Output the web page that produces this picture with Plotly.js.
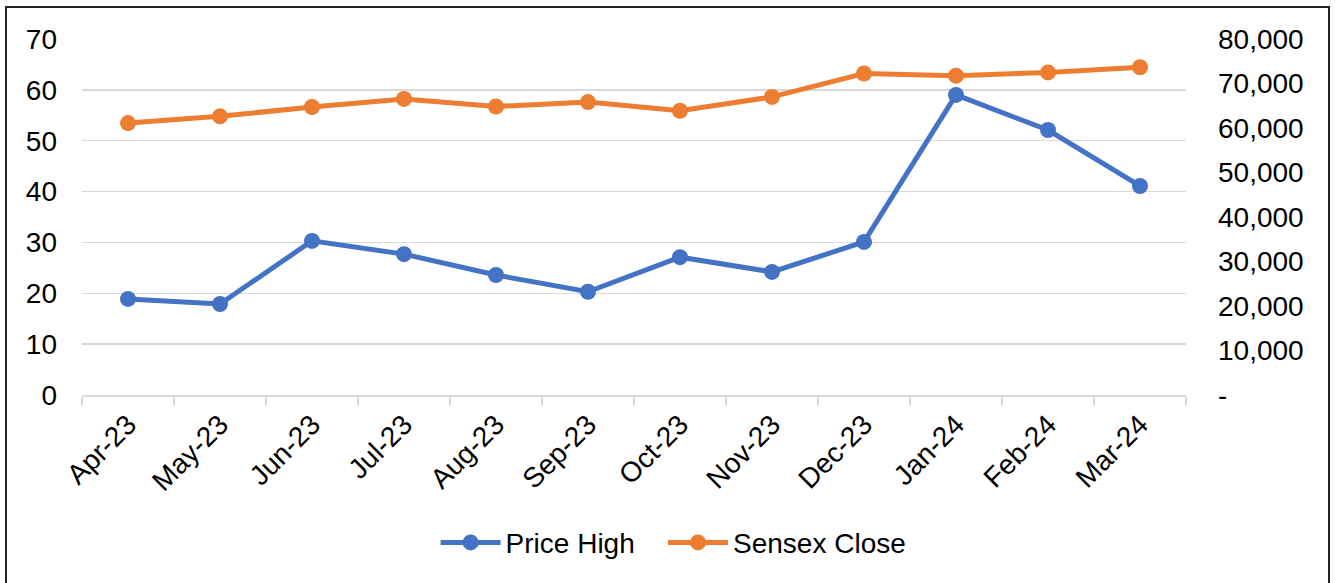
<!DOCTYPE html>
<html>
<head>
<meta charset="utf-8">
<script src="https://cdn.plot.ly/plotly-3.0.1.min.js"></script>
<style>
html,body{margin:0;padding:0;background:#fff;overflow:hidden;}
#chart{position:absolute;left:5px;top:6px;width:1321px;height:580px;border:2px solid #222;}
</style>
</head>
<body>
<div id="chart"></div>
<script>
const months = ["Apr-23","May-23","Jun-23","Jul-23","Aug-23","Sep-23","Oct-23","Nov-23","Dec-23","Jan-24","Feb-24","Mar-24"];
const priceHigh = [18.9, 17.9, 30.3, 27.7, 23.6, 20.3, 27.1, 24.2, 30.1, 59.0, 52.1, 41.1];
const sensexClose = [61112, 62622, 64719, 66528, 64831, 65828, 63875, 66988, 72240, 71752, 72500, 73651];
const leftTicks = [0,10,20,30,40,50,60,70];
const rightTickVals = [0,10000,20000,30000,40000,50000,60000,70000,80000];
const rightTickText = ["-","10,000","20,000","30,000","40,000","50,000","60,000","70,000","80,000"];

const font = {family:"Liberation Sans, Arial, sans-serif", size:28, color:"#000"};
const traces = [
  {x:months, y:priceHigh, name:"Price High", type:"scatter", mode:"lines+markers",
   line:{color:"#4472C4", width:5}, marker:{color:"#4472C4", size:16}, yaxis:"y", legend:"legend"},
  {x:months, y:sensexClose, name:"Sensex Close", type:"scatter", mode:"lines+markers",
   line:{color:"#ED7D31", width:5}, marker:{color:"#ED7D31", size:16}, yaxis:"y2", legend:"legend2"}
];
const layout = {
  width:1321, height:580,
  margin:{l:75, r:142, t:31, b:193, autoexpand:false},
  paper_bgcolor:"#fff", plot_bgcolor:"#fff",
  font:font,
  showlegend:true,
  legend:{orientation:"h", x:0.3203, xanchor:"left", y:-0.415, yanchor:"middle", font:font, itemwidth:60},
  legend2:{orientation:"h", x:0.5263, xanchor:"left", y:-0.415, yanchor:"middle", font:font, itemwidth:60},
  xaxis:{type:"category", range:[-0.5, months.length - 0.5], automargin:false, tickangle:-45, showgrid:false,
         showline:true, linecolor:"#d9d9d9", linewidth:2,
         ticks:"outside", tickson:"boundaries", ticklen:9, tickcolor:"#d9d9d9", tickwidth:2, tickfont:font},
  yaxis:{range:[0,70], automargin:false, tickvals:leftTicks, showgrid:true, gridcolor:"#d9d9d9", gridwidth:1.5, zeroline:false,
         showline:false, tickfont:font, ticklabelstandoff:24},
  yaxis2:{range:[0,80000], automargin:false, overlaying:"y", side:"right", tickvals:rightTickVals, ticktext:rightTickText,
          showgrid:false, zeroline:false, showline:false, tickfont:font, ticklabelstandoff:31}
};
Plotly.newPlot("chart", traces, layout, {displayModeBar:false, staticPlot:true});
</script>
</body>
</html>
